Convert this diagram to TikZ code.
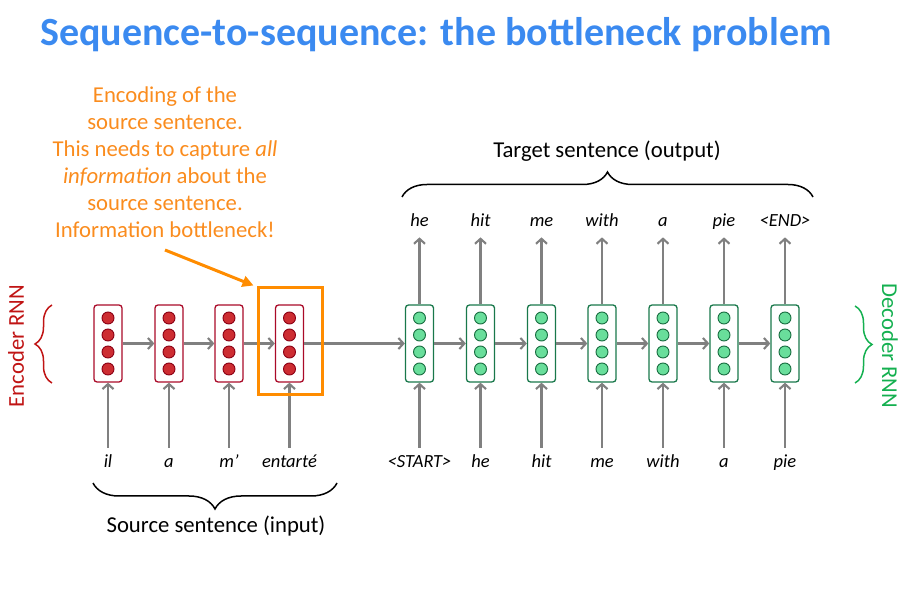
\documentclass[tikz,border=0pt]{standalone}
\usepackage{fontspec}
\setmainfont{Carlito}
\usetikzlibrary{arrows.meta,decorations.pathreplacing,calc}
\definecolor{titleblue}{RGB}{59,138,240}
\definecolor{encB}{RGB}{170,10,40}
\definecolor{encF}{RGB}{205,45,50}
\definecolor{encC}{RGB}{140,0,20}
\definecolor{encT}{RGB}{192,20,20}
\definecolor{decB}{RGB}{25,120,75}
\definecolor{decF}{RGB}{105,222,155}
\definecolor{decC}{RGB}{25,110,65}
\definecolor{decT}{RGB}{20,176,80}
\definecolor{agray}{RGB}{128,128,128}
\definecolor{orng}{RGB}{255,140,0}
\definecolor{orngT}{RGB}{250,140,30}
\begin{document}
\begin{tikzpicture}[x=1pt,y=-1pt,
  cell/.style={draw, rounded corners=3pt, line width=1.3pt, fill=white, minimum width=28pt, minimum height=77pt, inner sep=0pt},
  enc/.style={cell, draw=encB},
  dec/.style={cell, draw=decB},
  encdot/.style={fill=encF, draw=encC, line width=0.9pt},
  decdot/.style={fill=decF, draw=decC, line width=0.9pt},
  conn/.style={draw=agray, line width=2.1pt, -{Straight Barb[length=5pt,width=11pt,line width=2.1pt]}},
  word/.style={font=\fontsize{18.5}{22}\selectfont\itshape, inner sep=0pt, anchor=base},
  brc/.style={draw, line width=1.5pt, decorate},
  lbl/.style={font=\fontsize{22.7}{26}\selectfont, inner sep=0pt}]
\useasboundingbox (0,0) rectangle (906,612);

% title
\node[font=\fontsize{40}{46}\selectfont\bfseries, text=titleblue, inner sep=0pt] (title) at (436,35) {Sequence-to-sequence: the bottleneck problem};

% encoder cells
\foreach \i/\x in {1/108,2/169,3/229,4/289.5} {
  \node[enc] (e\i) at (\x,343.5) {};
  \foreach \dy in {-25.5,-8.5,8.5,25.5}
    \draw[encdot] ($(e\i)+(0,\dy)$) circle (6pt);
}
% decoder cells
\foreach \i/\x in {1/419.5,2/480.5,3/541.5,4/602,5/663,6/724,7/785} {
  \node[dec] (d\i) at (\x,343.5) {};
  \foreach \dy in {-25.5,-8.5,8.5,25.5}
    \draw[decdot] ($(d\i)+(0,\dy)$) circle (6pt);
}

% horizontal connections
\draw[conn] (e1.east) -- (e2.west);
\draw[conn] (e2.east) -- (e3.west);
\draw[conn] (e3.east) -- (e4.west);
\draw[conn] (e4.east) -- (d1.west);
\draw[conn] (d1.east) -- (d2.west);
\draw[conn] (d2.east) -- (d3.west);
\draw[conn] (d3.east) -- (d4.west);
\draw[conn] (d4.east) -- (d5.west);
\draw[conn] (d5.east) -- (d6.west);
\draw[conn] (d6.east) -- (d7.west);

% encoder inputs
\foreach \i/\w in {1/il,2/a,3/m’,4/entarté} {
  \coordinate (ein\i) at ($(e\i.south)+(0,65)$);
  \draw[conn] (ein\i) -- (e\i.south);
  \node[word] (ew\i) at ($(e\i.south)+(0,85)$) {\w};
}
% decoder inputs
\foreach \i/\w in {1/<START>,2/he,3/hit,4/me,5/with,6/a,7/pie} {
  \coordinate (din\i) at ($(d\i.south)+(0,65)$);
  \draw[conn] (din\i) -- (d\i.south);
  \node[word] (dw\i) at ($(d\i.south)+(0,85)$) {\w};
}
% decoder outputs
\foreach \i/\w in {1/he,2/hit,3/me,4/with,5/a,6/pie,7/<END>} {
  \coordinate (dout\i) at ($(d\i.north)+(0,-67)$);
  \draw[conn] (d\i.north) -- (dout\i);
  \node[word] (ow\i) at ($(d\i.north)+(0,-78)$) {\w};
}

% braces
\coordinate (sbL) at (93,483);
\coordinate (sbR) at (337,483);
\draw[brc, decoration={brace, amplitude=26pt}] (sbR) -- (sbL);
\node[lbl] (src) at (216,526) {Source sentence (input)};

\coordinate (tbL) at (402,197);
\coordinate (tbR) at (813,197);
\draw[brc, decoration={brace, amplitude=25pt}] (tbL) -- (tbR);
\node[lbl] (tgt) at (607,151) {Target sentence (output)};

\coordinate (ebT) at (52,305);
\coordinate (ebB) at (52,383);
\draw[brc, draw=encT, decoration={brace, amplitude=17pt}] (ebB) -- (ebT);
\node[lbl, text=encT, rotate=90] (encl) at (16,346) {Encoder RNN};

\coordinate (dbT) at (855,306);
\coordinate (dbB) at (855,383);
\draw[brc, draw=decT, decoration={brace, amplitude=17pt}] (dbT) -- (dbB);
\node[lbl, text=decT, rotate=-90] (decl) at (890,346) {Decoder RNN};

% highlight box
\node[draw=orng, line width=3pt, minimum width=64pt, minimum height=107pt, inner sep=0pt] (hl) at (290,341.5) {};

% annotation
\node[font=\fontsize{22.7}{27}\selectfont, text=orngT, align=center, inner sep=0pt] (ann) at (165,162)
  {Encoding of the\\ source sentence.\\ This needs to capture \textit{all}\\ \textit{information} about the\\ source sentence.\\ Information bottleneck!};
\coordinate (annS) at (165,250);
\draw[draw=orng, line width=3pt, -{Triangle[length=11pt,width=11pt]}] (annS) -- ($(hl.north west)+(-3,-1)$);
\end{tikzpicture}
\end{document}
